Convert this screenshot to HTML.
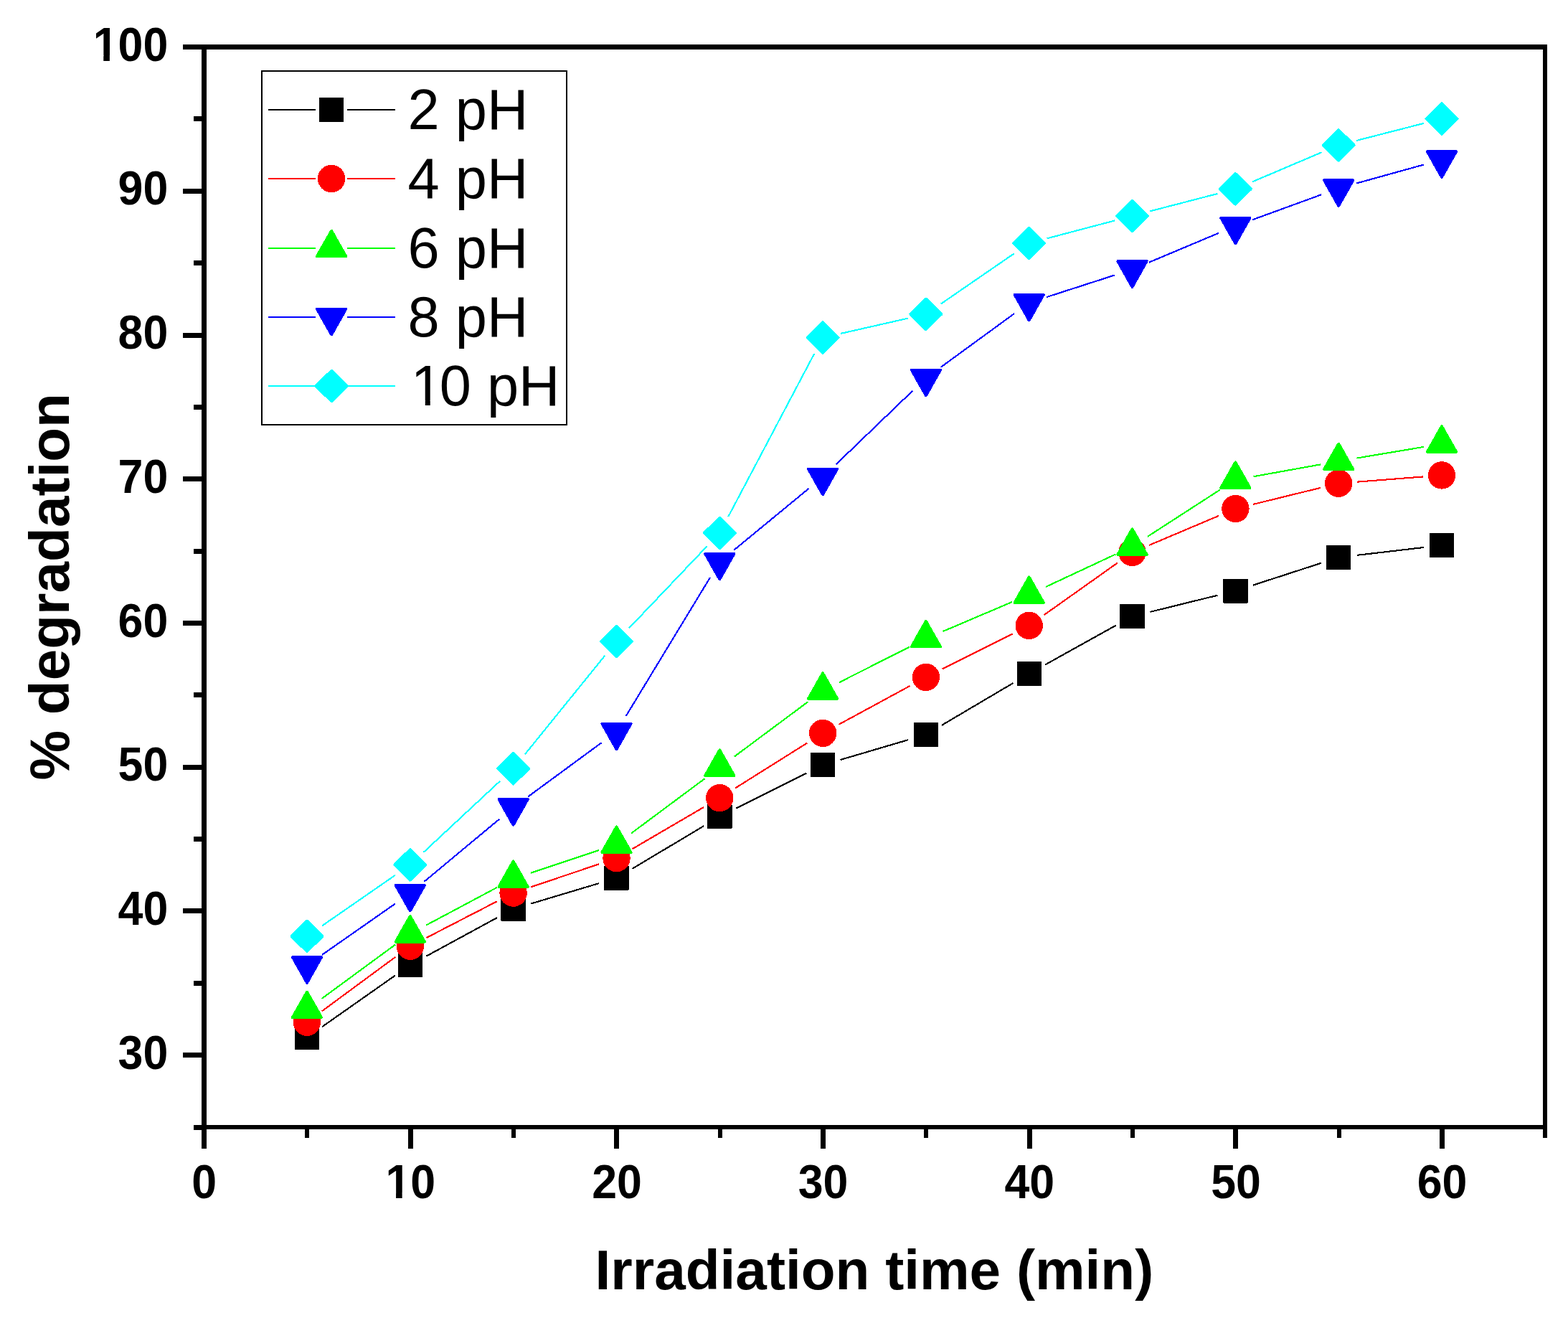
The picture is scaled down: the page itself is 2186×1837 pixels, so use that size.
<!DOCTYPE html>
<html lang="en">
<head>
<meta charset="utf-8">
<title>% degradation vs Irradiation time</title>
<style>
html,body{margin:0;padding:0;background:#ffffff;}
body{width:2186px;height:1837px;overflow:hidden;}
svg{display:block;}
text{font-family:"Liberation Sans",sans-serif;fill:#000;}
.tick{font-weight:bold;font-size:65px;}
.title{font-weight:bold;font-size:78.3px;}
.leg{font-size:79.4px;}
</style>
</head>
<body>
<svg width="2186" height="1837" viewBox="0 0 2186 1837">
<rect x="0" y="0" width="2186" height="1837" fill="#ffffff"/>

<g id="s-k" shape-rendering="crispEdges">
<path d="M449 1431.2L550.9 1359.6M594.3 1332.7L693.1 1279M740.2 1259.5L834.9 1231.2M881.4 1210.8L981.3 1151.2M1026.2 1126.7L1124.2 1077.7M1171.6 1059L1266.4 1031.1M1313 1010.8L1412.7 951.9M1457.1 926.5L1556.2 871.4M1603.4 852.9L1697.5 829.7M1746.7 815.7L1841.8 784.8M1891.6 773.9L1984.6 763" stroke="#000000" stroke-width="2.1" fill="none" stroke-linecap="butt"/>
<rect x="411.8" y="1429.9" width="32.4" height="32" fill="#000000" stroke="#000000" stroke-width="2" stroke-linejoin="round"/>
<rect x="555.6" y="1328.9" width="32.4" height="32" fill="#000000" stroke="#000000" stroke-width="2" stroke-linejoin="round"/>
<rect x="699.4" y="1250.8" width="32.4" height="32" fill="#000000" stroke="#000000" stroke-width="2" stroke-linejoin="round"/>
<rect x="843.3" y="1207.9" width="32.4" height="32" fill="#000000" stroke="#000000" stroke-width="2" stroke-linejoin="round"/>
<rect x="987.1" y="1122.1" width="32.4" height="32" fill="#000000" stroke="#000000" stroke-width="2" stroke-linejoin="round"/>
<rect x="1130.9" y="1050.3" width="32.4" height="32" fill="#000000" stroke="#000000" stroke-width="2" stroke-linejoin="round"/>
<rect x="1274.7" y="1007.8" width="32.4" height="32" fill="#000000" stroke="#000000" stroke-width="2" stroke-linejoin="round"/>
<rect x="1418.5" y="922.9" width="32.4" height="32" fill="#000000" stroke="#000000" stroke-width="2" stroke-linejoin="round"/>
<rect x="1562.3" y="843" width="32.4" height="32" fill="#000000" stroke="#000000" stroke-width="2" stroke-linejoin="round"/>
<rect x="1706.2" y="807.6" width="32.4" height="32" fill="#000000" stroke="#000000" stroke-width="2" stroke-linejoin="round"/>
<rect x="1850" y="760.9" width="32.4" height="32" fill="#000000" stroke="#000000" stroke-width="2" stroke-linejoin="round"/>
<rect x="1993.8" y="744" width="32.4" height="32" fill="#000000" stroke="#000000" stroke-width="2" stroke-linejoin="round"/>
</g>
<g id="s-r" shape-rendering="crispEdges">
<path d="M448.6 1409.5L551.2 1333.9M594.6 1307L692.9 1256.3M739.9 1236.4L835.2 1204.3M881.6 1183.2L981.2 1125M1025 1098.5L1125.4 1035.5M1169.6 1009.7L1268.4 956.1M1313.8 932.4L1411.8 883.4M1455.6 857.1L1557.7 784.7M1602.1 759.9L1698.8 719M1747.2 702.9L1841.3 679.8M1891.7 671.7L1984.5 664.4" stroke="#ff0000" stroke-width="2.1" fill="none" stroke-linecap="butt"/>
<circle cx="428" cy="1424.7" r="19.2" fill="#ff0000"/>
<circle cx="571.8" cy="1318.7" r="19.2" fill="#ff0000"/>
<circle cx="715.6" cy="1244.6" r="19.2" fill="#ff0000"/>
<circle cx="859.5" cy="1196.1" r="19.2" fill="#ff0000"/>
<circle cx="1003.3" cy="1112.1" r="19.2" fill="#ff0000"/>
<circle cx="1147.1" cy="1021.9" r="19.2" fill="#ff0000"/>
<circle cx="1290.9" cy="943.9" r="19.2" fill="#ff0000"/>
<circle cx="1434.7" cy="871.9" r="19.2" fill="#ff0000"/>
<circle cx="1578.5" cy="769.9" r="19.2" fill="#ff0000"/>
<circle cx="1722.4" cy="709" r="19.2" fill="#ff0000"/>
<circle cx="1866.2" cy="673.7" r="19.2" fill="#ff0000"/>
<circle cx="2010" cy="662.4" r="19.2" fill="#ff0000"/>
</g>
<g id="s-g" shape-rendering="crispEdges">
<path d="M448.7 1391.8L551.2 1316.5M594.4 1289.4L693.1 1236.8M739.9 1216.7L835.2 1184.9M880 1161.5L982.7 1085.1M1023.8 1054.5L1126.6 978M1169.9 951.2L1268 901.7M1314.4 880.1L1411.2 838.9M1457.9 818L1555.3 772.5M1600 747.8L1700.9 682.6M1747.5 664.2L1841 647.4M1891.4 638.6L1984.7 622.9" stroke="#00ff00" stroke-width="2.1" fill="none" stroke-linecap="butt"/>
<polygon points="428,1382.6 448.1,1418.1 407.9,1418.1" fill="#00ff00" stroke="#00ff00" stroke-width="4" stroke-linejoin="round"/>
<polygon points="571.8,1277.1 591.9,1312.6 551.7,1312.6" fill="#00ff00" stroke="#00ff00" stroke-width="4" stroke-linejoin="round"/>
<polygon points="715.6,1200.5 735.7,1236 695.5,1236" fill="#00ff00" stroke="#00ff00" stroke-width="4" stroke-linejoin="round"/>
<polygon points="859.5,1152.5 879.6,1188 839.4,1188" fill="#00ff00" stroke="#00ff00" stroke-width="4" stroke-linejoin="round"/>
<polygon points="1003.3,1045.5 1023.4,1081 983.2,1081" fill="#00ff00" stroke="#00ff00" stroke-width="4" stroke-linejoin="round"/>
<polygon points="1147.1,938.4 1167.2,973.9 1127,973.9" fill="#00ff00" stroke="#00ff00" stroke-width="4" stroke-linejoin="round"/>
<polygon points="1290.9,865.9 1311,901.4 1270.8,901.4" fill="#00ff00" stroke="#00ff00" stroke-width="4" stroke-linejoin="round"/>
<polygon points="1434.7,804.5 1454.8,840 1414.6,840" fill="#00ff00" stroke="#00ff00" stroke-width="4" stroke-linejoin="round"/>
<polygon points="1578.5,737.4 1598.6,772.9 1558.4,772.9" fill="#00ff00" stroke="#00ff00" stroke-width="4" stroke-linejoin="round"/>
<polygon points="1722.4,644.4 1742.5,679.9 1702.3,679.9" fill="#00ff00" stroke="#00ff00" stroke-width="4" stroke-linejoin="round"/>
<polygon points="1866.2,618.6 1886.3,654.1 1846.1,654.1" fill="#00ff00" stroke="#00ff00" stroke-width="4" stroke-linejoin="round"/>
<polygon points="2010,594.3 2030.1,629.8 1989.9,629.8" fill="#00ff00" stroke="#00ff00" stroke-width="4" stroke-linejoin="round"/>
</g>
<g id="s-b" shape-rendering="crispEdges">
<path d="M449 1330.8L550.8 1259.7M591.5 1228.7L696 1141.8M736.3 1110.3L838.8 1035M872.7 998L990 804.9M1023.1 766.8L1127.3 681.1M1165.6 647.2L1272.4 544.6M1311.6 511.8L1414 437.1M1459.1 414.1L1554.2 383.4M1602.1 365.6L1698.8 324.9M1746.4 306.2L1842.1 271.3M1890.8 255.6L1985.3 229.4" stroke="#0000ff" stroke-width="2.1" fill="none" stroke-linecap="butt"/>
<polygon points="428,1369.7 448.1,1334.1 407.9,1334.1" fill="#0000ff" stroke="#0000ff" stroke-width="4" stroke-linejoin="round"/>
<polygon points="571.8,1269.4 591.9,1233.8 551.7,1233.8" fill="#0000ff" stroke="#0000ff" stroke-width="4" stroke-linejoin="round"/>
<polygon points="715.6,1149.7 735.7,1114.1 695.5,1114.1" fill="#0000ff" stroke="#0000ff" stroke-width="4" stroke-linejoin="round"/>
<polygon points="859.5,1044.2 879.6,1008.6 839.4,1008.6" fill="#0000ff" stroke="#0000ff" stroke-width="4" stroke-linejoin="round"/>
<polygon points="1003.3,807.3 1023.4,771.7 983.2,771.7" fill="#0000ff" stroke="#0000ff" stroke-width="4" stroke-linejoin="round"/>
<polygon points="1147.1,689.2 1167.2,653.6 1127,653.6" fill="#0000ff" stroke="#0000ff" stroke-width="4" stroke-linejoin="round"/>
<polygon points="1290.9,551.2 1311,515.6 1270.8,515.6" fill="#0000ff" stroke="#0000ff" stroke-width="4" stroke-linejoin="round"/>
<polygon points="1434.7,446.3 1454.8,410.7 1414.6,410.7" fill="#0000ff" stroke="#0000ff" stroke-width="4" stroke-linejoin="round"/>
<polygon points="1578.5,399.8 1598.6,364.2 1558.4,364.2" fill="#0000ff" stroke="#0000ff" stroke-width="4" stroke-linejoin="round"/>
<polygon points="1722.4,339.3 1742.5,303.7 1702.3,303.7" fill="#0000ff" stroke="#0000ff" stroke-width="4" stroke-linejoin="round"/>
<polygon points="1866.2,286.8 1886.3,251.2 1846.1,251.2" fill="#0000ff" stroke="#0000ff" stroke-width="4" stroke-linejoin="round"/>
<polygon points="2010,246.8 2030.1,211.2 1989.9,211.2" fill="#0000ff" stroke="#0000ff" stroke-width="4" stroke-linejoin="round"/>
</g>
<g id="s-c" shape-rendering="crispEdges">
<path d="M449.1 1290.3L550.8 1219.9M590.6 1187.8L696.9 1088.8M731.8 1051.4L843.3 913.8M877.1 875.4L985.6 761.4M1015.2 720.3L1135.1 493.2M1172.1 464.9L1265.9 443.6M1312 423.4L1413.6 353.5M1459.5 332.4L1553.8 307.5M1603.3 294.4L1697.6 269.9M1745.9 253.4L1842.6 212.3M1891 196L1985.2 171.8" stroke="#00ffff" stroke-width="2.1" fill="none" stroke-linecap="butt"/>
<polygon points="428,1283.7 449.4,1304.9 428,1326.1 406.6,1304.9" fill="#00ffff" stroke="#00ffff" stroke-width="4" stroke-linejoin="round"/>
<polygon points="571.8,1184.1 593.2,1205.3 571.8,1226.5 550.4,1205.3" fill="#00ffff" stroke="#00ffff" stroke-width="4" stroke-linejoin="round"/>
<polygon points="715.6,1050.1 737,1071.3 715.6,1092.5 694.2,1071.3" fill="#00ffff" stroke="#00ffff" stroke-width="4" stroke-linejoin="round"/>
<polygon points="859.5,872.7 880.9,893.9 859.5,915.1 838.1,893.9" fill="#00ffff" stroke="#00ffff" stroke-width="4" stroke-linejoin="round"/>
<polygon points="1003.3,721.7 1024.7,742.9 1003.3,764.1 981.9,742.9" fill="#00ffff" stroke="#00ffff" stroke-width="4" stroke-linejoin="round"/>
<polygon points="1147.1,449.4 1168.5,470.6 1147.1,491.8 1125.7,470.6" fill="#00ffff" stroke="#00ffff" stroke-width="4" stroke-linejoin="round"/>
<polygon points="1290.9,416.7 1312.3,437.9 1290.9,459.1 1269.5,437.9" fill="#00ffff" stroke="#00ffff" stroke-width="4" stroke-linejoin="round"/>
<polygon points="1434.7,317.8 1456.1,339 1434.7,360.2 1413.3,339" fill="#00ffff" stroke="#00ffff" stroke-width="4" stroke-linejoin="round"/>
<polygon points="1578.5,279.7 1599.9,300.9 1578.5,322.1 1557.1,300.9" fill="#00ffff" stroke="#00ffff" stroke-width="4" stroke-linejoin="round"/>
<polygon points="1722.4,242.2 1743.8,263.4 1722.4,284.6 1701,263.4" fill="#00ffff" stroke="#00ffff" stroke-width="4" stroke-linejoin="round"/>
<polygon points="1866.2,181.1 1887.6,202.3 1866.2,223.5 1844.8,202.3" fill="#00ffff" stroke="#00ffff" stroke-width="4" stroke-linejoin="round"/>
<polygon points="2010,144.3 2031.4,165.5 2010,186.7 1988.6,165.5" fill="#00ffff" stroke="#00ffff" stroke-width="4" stroke-linejoin="round"/>
</g>
<g id="axes" fill="#000" shape-rendering="crispEdges">
<rect x="281" y="62" width="1876" height="7"/>
<rect x="281" y="1568" width="1876" height="6"/>
<rect x="281" y="62" width="7" height="1512"/>
<rect x="2151" y="62" width="6" height="1512"/>
<rect x="254.9" y="1467.1" width="29.5" height="7"/>
<rect x="254.9" y="1266.4" width="29.5" height="7"/>
<rect x="254.9" y="1065.7" width="29.5" height="7"/>
<rect x="254.9" y="864.9" width="29.5" height="7"/>
<rect x="254.9" y="664.2" width="29.5" height="7"/>
<rect x="254.9" y="463.5" width="29.5" height="7"/>
<rect x="254.9" y="262.7" width="29.5" height="7"/>
<rect x="254.9" y="62" width="29.5" height="7"/>
<rect x="269.9" y="1567.5" width="14.5" height="7"/>
<rect x="269.9" y="1366.7" width="14.5" height="7"/>
<rect x="269.9" y="1166" width="14.5" height="7"/>
<rect x="269.9" y="965.3" width="14.5" height="7"/>
<rect x="269.9" y="764.6" width="14.5" height="7"/>
<rect x="269.9" y="563.8" width="14.5" height="7"/>
<rect x="269.9" y="363.1" width="14.5" height="7"/>
<rect x="269.9" y="162.4" width="14.5" height="7"/>
<rect x="280.9" y="1571" width="7" height="29.5"/>
<rect x="568.5" y="1571" width="7" height="29.5"/>
<rect x="856.2" y="1571" width="7" height="29.5"/>
<rect x="1143.8" y="1571" width="7" height="29.5"/>
<rect x="1431.5" y="1571" width="7" height="29.5"/>
<rect x="1719.2" y="1571" width="7" height="29.5"/>
<rect x="2006.8" y="1571" width="7" height="29.5"/>
<rect x="425.2" y="1571" width="6" height="14.5"/>
<rect x="712.9" y="1571" width="6" height="14.5"/>
<rect x="1000.5" y="1571" width="6" height="14.5"/>
<rect x="1288.2" y="1571" width="6" height="14.5"/>
<rect x="1575.8" y="1571" width="6" height="14.5"/>
<rect x="1863.5" y="1571" width="6" height="14.5"/>
<rect x="2151.1" y="1571" width="6" height="14.5"/>
</g>
<g id="ticklabels" class="tick">
<g transform="translate(234.3 1489.8) scale(0.965 1.02)"><text text-anchor="end">30</text></g>
<g transform="translate(234.3 1289.1) scale(0.965 1.02)"><text text-anchor="end">40</text></g>
<g transform="translate(234.3 1088.4) scale(0.965 1.02)"><text text-anchor="end">50</text></g>
<g transform="translate(234.3 887.6) scale(0.965 1.02)"><text text-anchor="end">60</text></g>
<g transform="translate(234.3 686.9) scale(0.965 1.02)"><text text-anchor="end">70</text></g>
<g transform="translate(234.3 486.2) scale(0.965 1.02)"><text text-anchor="end">80</text></g>
<g transform="translate(234.3 285.4) scale(0.965 1.02)"><text text-anchor="end">90</text></g>
<g transform="translate(234.3 84.7) scale(0.965 1.02)"><text text-anchor="end">100</text><rect x="-105.36" y="-7.63" width="12.08" height="9.13" fill="#fff"/><rect x="-84.36" y="-7.63" width="11.25" height="9.13" fill="#fff"/></g>
<g transform="translate(284.7 1670.4) scale(0.965 1.02)"><text text-anchor="middle">0</text></g>
<g transform="translate(572.3 1670.4) scale(0.965 1.02)"><text text-anchor="middle">10</text><rect x="-33.06" y="-7.63" width="12.08" height="9.13" fill="#fff"/><rect x="-12.06" y="-7.63" width="11.25" height="9.13" fill="#fff"/></g>
<g transform="translate(860 1670.4) scale(0.965 1.02)"><text text-anchor="middle">20</text></g>
<g transform="translate(1147.6 1670.4) scale(0.965 1.02)"><text text-anchor="middle">30</text></g>
<g transform="translate(1435.3 1670.4) scale(0.965 1.02)"><text text-anchor="middle">40</text></g>
<g transform="translate(1723 1670.4) scale(0.965 1.02)"><text text-anchor="middle">50</text></g>
<g transform="translate(2010.6 1670.4) scale(0.965 1.02)"><text text-anchor="middle">60</text></g>
</g>
<text class="title" x="1218.9" y="1797" text-anchor="middle">Irradiation time (min)</text>
<text class="title" transform="translate(96 817.8) rotate(-90)" text-anchor="middle">% degradation</text>
<g id="legend">
<rect x="365" y="99" width="425" height="493" fill="#fff" stroke="#000" stroke-width="2" shape-rendering="crispEdges"/>
<g shape-rendering="crispEdges"><path d="M374 153H440M484 153H551" stroke="#000000" stroke-width="2" fill="none"/>
<rect x="445.9" y="137" width="32.4" height="32" fill="#000000" stroke="#000000" stroke-width="2" stroke-linejoin="round"/></g>
<text class="leg" x="568.6" y="179.9">2 pH</text>
<g shape-rendering="crispEdges"><path d="M374 249H440M484 249H551" stroke="#ff0000" stroke-width="2" fill="none"/>
<circle cx="462.1" cy="249" r="19.2" fill="#ff0000"/></g>
<text class="leg" x="568.6" y="275.9">4 pH</text>
<g shape-rendering="crispEdges"><path d="M374 346H440M484 346H551" stroke="#00ff00" stroke-width="2" fill="none"/>
<polygon points="462.1,321.7 482.2,357.2 442,357.2" fill="#00ff00" stroke="#00ff00" stroke-width="4" stroke-linejoin="round"/></g>
<text class="leg" x="568.6" y="372.9">6 pH</text>
<g shape-rendering="crispEdges"><path d="M374 442H440M484 442H551" stroke="#0000ff" stroke-width="2" fill="none"/>
<polygon points="462.1,466.3 482.2,430.7 442,430.7" fill="#0000ff" stroke="#0000ff" stroke-width="4" stroke-linejoin="round"/></g>
<text class="leg" x="568.6" y="468.9">8 pH</text>
<g shape-rendering="crispEdges"><path d="M374 538H440M484 538H551" stroke="#00ffff" stroke-width="2" fill="none"/>
<polygon points="462.1,516.8 483.5,538 462.1,559.2 440.7,538" fill="#00ffff" stroke="#00ffff" stroke-width="4" stroke-linejoin="round"/></g>
<g transform="translate(568.6 564.9)"><text class="leg"><tspan dx="4.2">1</tspan><tspan dx="-4.2">0 pH</tspan></text><rect x="9.25" y="-6.93" width="14.92" height="8.43" fill="#fff"/><rect x="31.18" y="-6.93" width="14.3" height="8.43" fill="#fff"/></g>
</g>
</svg>
</body>
</html>
